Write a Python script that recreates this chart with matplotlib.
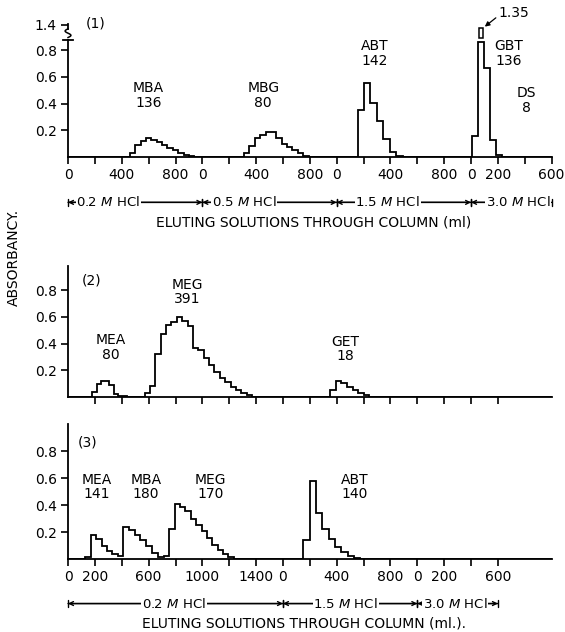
import numpy as np
import matplotlib
matplotlib.use("Agg")
import matplotlib.pyplot as plt
from matplotlib.patches import Rectangle

plt.rcParams["font.family"] = ["DejaVu Sans"]
plt.rcParams["mathtext.fontset"] = "dejavusans"

# ===== data: volume through column (ml, running) / absorbancy per fraction =====
# panel (1)
p1_starts = [460, 1310, 2155, 3008]
p1_widths = [40, 40, 48, 45]
p1_heights = [
    [0.03, 0.09, 0.12, 0.145, 0.13, 0.11, 0.09, 0.07, 0.05, 0.03, 0.015, 0.005],
    [0.03, 0.085, 0.14, 0.165, 0.185, 0.185, 0.14, 0.10, 0.075, 0.05, 0.03, 0.01],
    [0.35, 0.555, 0.405, 0.27, 0.135, 0.04, 0.01],
    [0.155, 1.35, 0.67, 0.13, 0.012],
]
p1_labels = ["MBA\n136", "MBG\n80", "ABT\n142", "GBT\n136", "DS\n8"]

# panel (2)
p2_starts = [180, 570, 1950]
p2_widths = [32, 40, 42]
p2_heights = [
    [0.037, 0.10, 0.12, 0.12, 0.09, 0.02, 0.01, 0.005],
    [0.03, 0.085, 0.32, 0.47, 0.54, 0.56, 0.595, 0.57, 0.53, 0.37, 0.35,
     0.29, 0.24, 0.185, 0.145, 0.11, 0.075, 0.05, 0.03, 0.015],
    [0.05, 0.12, 0.105, 0.075, 0.05, 0.03, 0.012],
]
p2_labels = ["MEA\n80", "MEG\n391", "GET\n18"]

# panel (3)
p3_starts = [130, 410, 754, 1752]
p3_widths = [40, 43, 40, 47]
p3_heights = [
    [0.015, 0.175, 0.145, 0.095, 0.06, 0.04, 0.025],
    [0.24, 0.215, 0.18, 0.143, 0.094, 0.044, 0.015, 0.025],
    [0.222, 0.405, 0.385, 0.352, 0.30, 0.254, 0.21, 0.155, 0.106, 0.07, 0.04, 0.015],
    [0.14, 0.58, 0.34, 0.22, 0.145, 0.09, 0.05, 0.02, 0.008],
]
p3_labels = ["MEA\n141", "MBA\n180", "MEG\n170", "ABT\n140"]

# x tick labels (running ml -> label shown)
p1_ticks = list(range(0, 3601, 200))
p1_ticklabels = {0: "0", 400: "400", 800: "800", 1000: "0", 1400: "400", 1800: "800",
                 2000: "0", 2400: "400", 2800: "800", 3000: "0", 3200: "200", 3600: "600"}
p3_ticks = list(range(0, 3201, 200))
p3_ticklabels = {0: "0", 200: "200", 600: "600", 1000: "1000", 1400: "1400", 1600: "0",
                 2000: "400", 2400: "800", 2600: "0", 2800: "200", 3200: "600"}

# eluting solutions
p1_solutions = [(0, 1000, "0.2"), (1000, 2000, "0.5"), (2000, 3000, "1.5"), (3000, 3600, "3.0")]
p3_solutions = [(0, 1600, "0.2"), (1600, 2600, "1.5"), (2600, 3200, "3.0")]

XMAX = 3600
BREAK = 0.86
FS = 10
LW = 1.3


def build_stairs(starts, widths, heights):
    edges = [0.0]
    vals = []
    for s, w, hs in zip(starts, widths, heights):
        if s > edges[-1]:
            vals.append(0.0)
            edges.append(s)
        for v in hs:
            vals.append(v)
            edges.append(edges[-1] + w)
    vals.append(0.0)
    edges.append(XMAX)
    return np.array(vals), np.array(edges)


def style_axes(ax, ytop):
    ax.set_xlim(0, XMAX)
    ax.set_ylim(0, ytop)
    for s in ["top", "right"]:
        ax.spines[s].set_visible(False)
    for s in ["left", "bottom"]:
        ax.spines[s].set_linewidth(LW)
    ax.tick_params(direction="out", length=5, width=1.2, labelsize=FS, pad=3)
    ax.set_yticks([0.2, 0.4, 0.6, 0.8])
    ax.set_yticklabels(["0.2", "0.4", "0.6", "0.8"])


def set_xticks(ax, ticks, labels, longs=()):
    ax.set_xticks(ticks)
    ax.set_xticklabels([labels.get(t, "") for t in ticks])
    if longs:
        ax.set_xticks(list(longs), minor=True)
        ax.tick_params(axis="x", which="minor", direction="out", length=9, width=1.2)


def solution_bracket(ax, segs, ytxt, centers):
    for (a, b, conc), xc in zip(segs, centers):
        ax.annotate("", xy=(a, ytxt), xytext=(b, ytxt),
                    xycoords=("data", "axes fraction"), textcoords=("data", "axes fraction"),
                    arrowprops=dict(arrowstyle="<->", lw=1.0, color="black",
                                    mutation_scale=7, shrinkA=0, shrinkB=0))
        ax.annotate("", xy=(a, ytxt), xytext=(b, ytxt),
                    xycoords=("data", "axes fraction"), textcoords=("data", "axes fraction"),
                    arrowprops=dict(arrowstyle="|-|, widthA=0.25, widthB=0.25", lw=1.0,
                                    color="black", shrinkA=0, shrinkB=0))
        ax.text(xc, ytxt, conc + r" $\mathit{M}$ HCl", fontsize=FS - 0.5,
                transform=ax.get_xaxis_transform(), ha="center", va="center",
                bbox=dict(facecolor="white", edgecolor="none", pad=0.6), clip_on=False)


fig = plt.figure(figsize=(5.65, 6.32), dpi=100)
L, W = 0.1204, 0.856
ax1 = fig.add_axes([L, 0.7516, W, 0.2112])
ax2 = fig.add_axes([L, 0.3718, W, 0.2073])
ax3 = fig.add_axes([L, 0.1155, W, 0.2136])

# ---------------- panel 1 ----------------
v1, e1 = build_stairs(p1_starts, p1_widths, p1_heights)
ax1.stairs(np.minimum(v1, BREAK), e1, color="black", lw=LW, baseline=None)
style_axes(ax1, 1.0)
ax1.spines["left"].set_bounds(0, 0.88)
ax1.set_yticks([0.2, 0.4, 0.6, 0.8, 0.99])
ax1.set_yticklabels(["0.2", "0.4", "0.6", "0.8", "1.4"])
set_xticks(ax1, p1_ticks, p1_ticklabels)

# axis break on y
yt = ax1.get_yaxis_transform()
ax1.plot([-0.01, 0.01], [0.88, 0.88], color="black", lw=LW, transform=yt, clip_on=False)
tt = np.linspace(0, 1, 30)
ax1.plot(0.006 * np.sin(2 * np.pi * tt), 0.895 + 0.065 * tt, color="black", lw=1.1,
         transform=yt, clip_on=False)
ax1.plot([0, 0], [0.96, 1.0], color="black", lw=LW, transform=yt, clip_on=False)

# box for the off-scale GBT fraction
i_big = int(np.argmax(v1))
bx0, bx1 = e1[i_big], e1[i_big + 1]
ax1.add_patch(Rectangle((bx0 + 6, 0.895), (bx1 - bx0) - 12, 0.07, fill=False,
                        lw=1.1, edgecolor="black", clip_on=False))
ax1.annotate("%.2f" % v1[i_big], xy=(bx1 - 4, 0.97), xytext=(3205, 1.08),
             fontsize=FS, ha="left", va="center", annotation_clip=False,
             arrowprops=dict(arrowstyle="-|>", lw=0.9, color="black", mutation_scale=7,
                             shrinkA=0, shrinkB=1, relpos=(0, 0.3)))

ax1.text(135, 1.0, "(1)", fontsize=FS, ha="left", va="center")
p1_label_xy = [(600, 0.46), (1453, 0.46), (2280, 0.775), (3280, 0.775), (3413, 0.425)]
for t, (x, y) in zip(p1_labels, p1_label_xy):
    ax1.text(x, y, t, fontsize=FS, ha="center", va="center", linespacing=1.05)

solution_bracket(ax1, p1_solutions, -0.34, [300, 1310, 2380, 3350])
ax1.text(1830, -0.49, "ELUTING SOLUTIONS THROUGH COLUMN (ml)", fontsize=FS,
         transform=ax1.get_xaxis_transform(), ha="center", va="center")

# ---------------- panel 2 ----------------
v2, e2 = build_stairs(p2_starts, p2_widths, p2_heights)
ax2.stairs(v2, e2, color="black", lw=LW, baseline=None)
style_axes(ax2, 0.98)
set_xticks(ax2, p3_ticks[1:], {}, longs=(1600, 2600))
ax2.text(100, 0.875, "(2)", fontsize=FS, ha="left", va="center")
p2_label_xy = [(318, 0.37), (888, 0.785), (2065, 0.36)]
for t, (x, y) in zip(p2_labels, p2_label_xy):
    ax2.text(x, y, t, fontsize=FS, ha="center", va="center", linespacing=1.05)

# ---------------- panel 3 ----------------
v3, e3 = build_stairs(p3_starts, p3_widths, p3_heights)
ax3.stairs(v3, e3, color="black", lw=LW, baseline=None)
style_axes(ax3, 1.0)
set_xticks(ax3, p3_ticks, p3_ticklabels, longs=(1600, 2600))
ax3.text(70, 0.86, "(3)", fontsize=FS, ha="left", va="center")
p3_label_xy = [(213, 0.535), (581, 0.535), (1060, 0.535), (2135, 0.535)]
for t, (x, y) in zip(p3_labels, p3_label_xy):
    ax3.text(x, y, t, fontsize=FS, ha="center", va="center", linespacing=1.05)

solution_bracket(ax3, p3_solutions, -0.33, [790, 2067, 2880])
ax3.text(1760, -0.48, "ELUTING SOLUTIONS THROUGH COLUMN (ml.).", fontsize=FS,
         transform=ax3.get_xaxis_transform(), ha="center", va="center")

fig.text(0.024, 0.592, "ABSORBANCY.", rotation=90, fontsize=FS, ha="center", va="center")

fig.savefig("out.png", dpi=100)
